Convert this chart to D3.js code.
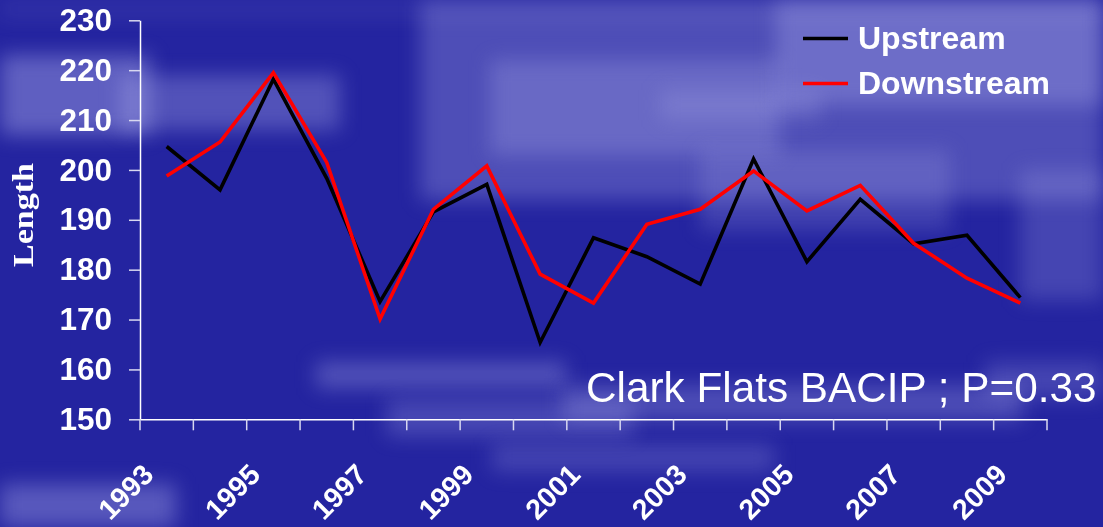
<!DOCTYPE html>
<html>
<head>
<meta charset="utf-8">
<script src="https://cdn.jsdelivr.net/npm/d3@7/dist/d3.min.js"></script>
<style>
  html, body { margin: 0; padding: 0; background: #2424a0; }
  #wrap { position: relative; width: 1103px; height: 527px; }
  #backdrop, #chart { position: absolute; left: 0; top: 0; display: block; }
  text { font-family: "Liberation Sans", Arial, sans-serif; fill: #ffffff; }
</style>
</head>
<body>
<div id="wrap">
  <canvas id="backdrop" width="1103" height="527"></canvas>
  <svg id="chart" width="1103" height="527"></svg>
</div>
<script>
// Survey years and mean fish length per year at the two sites
const years = ["1993","1994","1995","1996","1997","1998","1999","2000","2001",
               "2002","2003","2004","2005","2006","2007","2008","2009"];
const upstream   = [204.7, 196.0, 218.2, 198.3, 173.6, 191.6, 197.1, 165.4, 186.4,
                    182.6, 177.1, 202.2, 181.6, 194.1, 185.2, 186.9, 174.4];
const downstream = [198.8, 205.6, 219.5, 201.5, 170.1, 192.1, 200.8, 179.1, 173.3,
                    189.1, 192.1, 199.8, 191.8, 196.9, 185.3, 178.3, 173.3];
const yTicks = [150, 160, 170, 180, 190, 200, 210, 220, 230];
const xTickLabels = ["1993","1995","1997","1999","2001","2003","2005","2007","2009"];
const seriesNames = ["Upstream", "Downstream"];
const seriesColors = ["#000000", "#ff0000"];

// Soft light streaks of the slide backdrop: [x, y, width, height, opacity]
const glowPatches = [
  [0, 55, 150, 80, 0.45],
  [120, 75, 220, 55, 0.35],
  [0, 0, 1103, 18, 0.10],
  [420, 0, 683, 200, 0.32],
  [490, 60, 290, 95, 0.30],
  [660, 90, 160, 30, 0.25],
  [775, 0, 328, 105, 0.35],
  [700, 150, 250, 80, 0.22],
  [1020, 170, 83, 130, 0.25],
  [316, 362, 250, 26, 0.35],
  [387, 400, 246, 36, 0.28],
  [563, 385, 460, 36, 0.30],
  [492, 445, 282, 26, 0.25],
  [0, 484, 176, 43, 0.40],
  [985, 362, 118, 36, 0.25]
];

const W = 1103, H = 527;

// Backdrop: dark blue slide with blurred light streaks
const ctx = document.getElementById("backdrop").getContext("2d");
ctx.fillStyle = "#2424a0";
ctx.fillRect(0, 0, W, H);
ctx.filter = "blur(10px)";
glowPatches.forEach(p => {
  ctx.fillStyle = `rgba(168,168,232,${p[4]})`;
  ctx.fillRect(p[0], p[1], p[2], p[3]);
});
ctx.filter = "none";

const svg = d3.select("#chart");

// Scales
const x = d3.scaleBand().domain(years).range([140, 1047]).padding(0);
const y = d3.scaleLinear().domain([150, 230]).range([419.3, 20.3]);
const cx = d => x(d) + x.bandwidth() / 2;

// Y axis
const yAxis = svg.append("g").attr("transform", "translate(140,0)")
  .call(d3.axisLeft(y).tickValues(yTicks).tickSize(11).tickPadding(17).tickSizeOuter(0));
yAxis.select(".domain").attr("stroke", "#ffffff").attr("stroke-width", 1.5);
yAxis.selectAll(".tick line").attr("stroke", "#d8d8f0").attr("stroke-width", 1.5);
yAxis.selectAll(".tick text")
  .style("font-family", "'Liberation Sans', Arial, sans-serif")
  .style("font-weight", "bold").style("font-size", "31.5px").attr("fill", "#ffffff");

// X axis: line with ticks on category boundaries
const xAxis = svg.append("g").attr("transform", `translate(0,${y(150)})`)
  .call(d3.axisBottom(x).tickSize(0).tickFormat("").tickSizeOuter(0));
xAxis.select(".domain").attr("stroke", "#ffffff").attr("stroke-width", 1.5);
xAxis.selectAll(".tick").remove();
const bounds = years.map(d => x(d)).concat([x.range()[1]]);
xAxis.selectAll("line.bound").data(bounds).join("line").attr("class", "bound")
  .attr("x1", d => d).attr("x2", d => d).attr("y1", 0).attr("y2", 11)
  .attr("stroke", "#d8d8f0").attr("stroke-width", 1.5);

svg.append("g").selectAll("text").data(xTickLabels).join("text")
  .attr("transform", d => `translate(${cx(d) - 11.5},${y(150) + 57}) rotate(-45)`)
  .attr("text-anchor", "end")
  .style("font-weight", "bold").style("font-size", "28.5px")
  .text(d => d);

// Y axis title
svg.append("text")
  .attr("transform", `translate(33,215) rotate(-90)`)
  .attr("text-anchor", "middle")
  .attr("textLength", 104).attr("lengthAdjust", "spacingAndGlyphs")
  .style("font-family", "'Liberation Serif', 'Times New Roman', serif")
  .style("font-weight", "bold").style("font-size", "30px")
  .text("Length");

// Series lines
const line = d3.line().x((d, i) => cx(years[i])).y(d => y(d));
[upstream, downstream].forEach((vals, k) => {
  svg.append("path").datum(vals)
    .attr("d", line).attr("fill", "none")
    .attr("stroke", seriesColors[k]).attr("stroke-width", 3.6)
    .attr("stroke-linejoin", "miter");
});

// Legend
const legend = svg.append("g").selectAll("g").data(seriesNames).join("g")
  .attr("transform", (d, i) => `translate(803,${38.5 + i * 45})`);
legend.append("line").attr("x1", 0).attr("x2", 45).attr("y1", 0).attr("y2", 0)
  .attr("stroke", (d, i) => seriesColors[i]).attr("stroke-width", 3.5);
legend.append("text").attr("x", 55).attr("y", 10.5)
  .style("font-weight", "bold").style("font-size", "32px")
  .text(d => d);

// Annotation
svg.append("text").attr("x", 586).attr("y", 402)
  .style("font-size", "42.3px")
  .text("Clark Flats BACIP ; P=0.33");
</script>
</body>
</html>
